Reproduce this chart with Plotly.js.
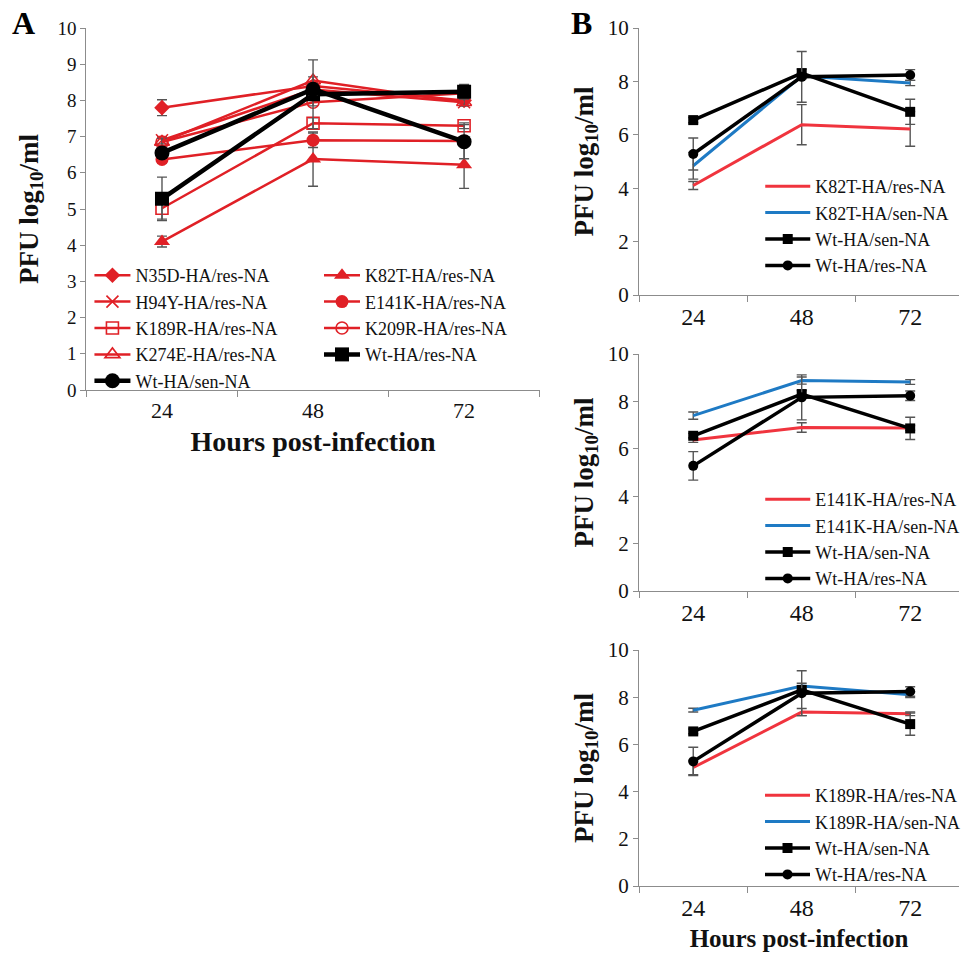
<!DOCTYPE html>
<html>
<head>
<meta charset="utf-8">
<script src="https://cdn.plot.ly/plotly-3.0.1.min.js"></script>
<style>html,body{margin:0;padding:0;background:#fff;}#chart{width:965px;height:954px;}</style>
</head>
<body>
<div id="chart"></div>
<script>
// ---------- data ----------
const hours = ['24', '48', '72'];

// Panel A (all res-NA mutants + wild type)
const n35dRes = [7.80, 8.40, 8.00];
const n35dResErr = [0.22, 0.10, 0.10];
const k82tRes = [4.10, 6.38, 6.22];
const k82tResErr = [0.15, 0.75, 0.65];
const h94yRes = [6.90, 8.30, 7.95];
const h94yResErr = [0.10, 0.10, 0.10];
const e141kRes = [6.37, 6.90, 6.88];
const e141kResErr = [0.10, 0.20, 0.10];
const k189rRes = [5.02, 7.37, 7.30];
const k189rResErr = [0.30, 0.15, 0.08];
const k209rRes = [6.85, 7.95, 8.20];
const k209rResErr = [0.10, 0.10, 0.10];
const k274eRes = [6.85, 8.55, 7.95];
const k274eResErr = [0.10, 0.10, 0.10];
const wtRes = [5.28, 8.17, 8.24];
const wtResErr = [0.60, 0.95, 0.20];
const wtSen = [6.55, 8.31, 6.86];
const wtSenErr = [0.10, 0.15, 0.47];

// Panel B (sensitive-NA counterparts)
const k82tSen = [4.84, 8.20, 7.94];
const k82tSenErr = [0.50, 0.10, 0.10];
const e141kSen = [7.40, 8.88, 8.82];
const e141kSenErr = [0.15, 0.15, 0.10];
const k189rSen = [7.45, 8.47, 8.10];
const k189rSenErr = [0.08, 0.12, 0.12];

// ---------- styles ----------
const FONT = 'Liberation Serif';
const RED_A = 'rgb(224,32,38)';
const RED_B = 'rgb(240,52,62)';
const BLUE_B = 'rgb(30,122,196)';
const BLACK = '#000000';
const ERR = '#555555';

function err(arr, w) {
  return {type: 'data', array: arr, visible: true, color: ERR, thickness: 1.4, width: w || 5};
}

const traces = [];
function addA(name, y, e, color, symbol, msize, lw, legend, mline) {
  traces.push({
    x: hours, y: y, name: name, type: 'scatter', mode: 'lines+markers',
    xaxis: 'x', yaxis: 'y', legend: legend,
    line: {color: color, width: lw},
    marker: {symbol: symbol, size: msize, color: color, line: {color: color, width: mline || 0}},
    error_y: err(e, 5)
  });
}
// red mutants first, black on top
addA('N35D-HA/res-NA', n35dRes, n35dResErr, RED_A, 'diamond', 12, 2.5, 'legend');
addA('K82T-HA/res-NA', k82tRes, k82tResErr, RED_A, 'triangle-up', 14, 2.5, 'legend2');
addA('H94Y-HA/res-NA', h94yRes, h94yResErr, RED_A, 'x-thin-open', 12, 2.5, 'legend', 1.6);
addA('E141K-HA/res-NA', e141kRes, e141kResErr, RED_A, 'circle', 13, 2.5, 'legend2');
addA('K189R-HA/res-NA', k189rRes, k189rResErr, RED_A, 'square-open', 12, 2.5, 'legend', 1.6);
addA('K209R-HA/res-NA', k209rRes, k209rResErr, RED_A, 'circle-open', 12, 2.5, 'legend2', 1.6);
addA('K274E-HA/res-NA', k274eRes, k274eResErr, RED_A, 'triangle-up-open', 13, 2.5, 'legend', 1.6);
addA('Wt-HA/res-NA', wtRes, wtResErr, BLACK, 'square', 14, 4.5, 'legend2');
addA('Wt-HA/sen-NA', wtSen, wtSenErr, BLACK, 'circle', 15, 4.5, 'legend');

function addB(idx, mutName, resY, resE, senY, senE) {
  const xa = 'x' + idx, ya = 'y' + idx, lg = 'legend' + (idx + 1);
  traces.push({x: hours, y: resY, name: mutName + '-HA/res-NA', type: 'scatter', mode: 'lines',
    xaxis: xa, yaxis: ya, legend: lg, line: {color: RED_B, width: 3}, error_y: err(resE, 5)});
  traces.push({x: hours, y: senY, name: mutName + '-HA/sen-NA', type: 'scatter', mode: 'lines',
    xaxis: xa, yaxis: ya, legend: lg, line: {color: BLUE_B, width: 3}, error_y: err(senE, 5)});
  traces.push({x: hours, y: wtSen, name: 'Wt-HA/sen-NA', type: 'scatter', mode: 'lines+markers',
    xaxis: xa, yaxis: ya, legend: lg, line: {color: BLACK, width: 3.5},
    marker: {symbol: 'square', size: 10, color: BLACK}, error_y: err(wtSenErr, 5)});
  traces.push({x: hours, y: wtRes, name: 'Wt-HA/res-NA', type: 'scatter', mode: 'lines+markers',
    xaxis: xa, yaxis: ya, legend: lg, line: {color: BLACK, width: 3.5},
    marker: {symbol: 'circle', size: 10, color: BLACK}, error_y: err(wtResErr, 5)});
}
addB(2, 'K82T', k82tRes, k82tResErr, k82tSen, k82tSenErr);
addB(3, 'E141K', e141kRes, e141kResErr, e141kSen, e141kSenErr);
addB(4, 'K189R', k189rRes, k189rResErr, k189rSen, k189rSenErr);

// ---------- layout ----------
const W = 965, H = 954;
const px = v => v / W;
const py = v => 1 - v / H;

function xAxis(domain, anchor, range, tickSize, title) {
  const ax = {
    domain: domain, anchor: anchor, type: 'category', range: range,
    showline: true, linecolor: '#8c8c8c', linewidth: 1.2,
    ticks: 'outside', tickson: 'boundaries', ticklen: 6, tickcolor: '#8c8c8c', tickwidth: 1.2,
    showgrid: false, zeroline: false,
    tickfont: {family: FONT, size: tickSize, color: '#111'}
  };
  if (title) ax.title = {text: '<b>Hours post-infection</b>', font: {family: FONT, size: title, color: '#111'}, standoff: 9};
  return ax;
}
function yAxis(domain, anchor, dtick, tickSize, standoff) {
  return {
    domain: domain, anchor: anchor, range: [0, 10], dtick: dtick, tick0: 0,
    showline: true, linecolor: '#8c8c8c', linewidth: 1.2,
    ticks: 'outside', ticklen: 5, tickcolor: '#8c8c8c', tickwidth: 1.2,
    showgrid: false, zeroline: false,
    tickfont: {family: FONT, size: tickSize, color: '#111'},
    title: {text: '<b>PFU log<sub>10</sub>/ml</b>', font: {family: FONT, size: 27, color: '#111'}, standoff: standoff}
  };
}
function legendBox(x, y, size, iw) {
  return {x: x, y: y, xanchor: 'left', yanchor: 'top', bgcolor: 'rgba(0,0,0,0)', borderwidth: 0,
    font: {family: FONT, size: size, color: '#111'}, itemwidth: iw || 30, tracegroupgap: 0};
}

const bx = [px(643), 1];
const bRange = [-0.5, 2.45];

const layout = {
  width: W, height: H,
  margin: {l: 0, r: 0, t: 0, b: 0},
  paper_bgcolor: '#fff', plot_bgcolor: 'rgba(0,0,0,0)',
  showlegend: true,
  xaxis: xAxis([px(87), px(543)], 'y', [-0.5, 2.5], 22, 28),
  yaxis: yAxis([py(390), py(28)], 'x', 1, 19, 11),
  xaxis2: xAxis(bx, 'y2', bRange, 24),
  yaxis2: yAxis([py(295), py(28)], 'x2', 2, 21, 6),
  xaxis3: xAxis(bx, 'y3', bRange, 24),
  yaxis3: yAxis([py(591), py(354)], 'x3', 2, 21, 6),
  xaxis4: xAxis(bx, 'y4', bRange, 24, 25),
  yaxis4: yAxis([py(886), py(650)], 'x4', 2, 21, 6),
  legend: legendBox(px(90), py(257), 18, 36),
  legend2: legendBox(px(321), py(257), 18, 36),
  legend3: legendBox(px(765), py(168), 18, 45),
  legend4: legendBox(px(765), py(481), 18, 45),
  legend5: legendBox(px(765), py(777), 18, 45),
  annotations: [
    {text: '<b>A</b>', x: px(10), y: py(3), xref: 'paper', yref: 'paper', xanchor: 'left', yanchor: 'top',
      showarrow: false, font: {family: FONT, size: 32, color: '#000'}},
    {text: '<b>B</b>', x: px(573), y: py(3), xref: 'paper', yref: 'paper', xanchor: 'left', yanchor: 'top',
      showarrow: false, font: {family: FONT, size: 32, color: '#000'}}
  ]
};

Plotly.newPlot('chart', traces, layout, {displayModeBar: false, responsive: false});
</script>
</body>
</html>
